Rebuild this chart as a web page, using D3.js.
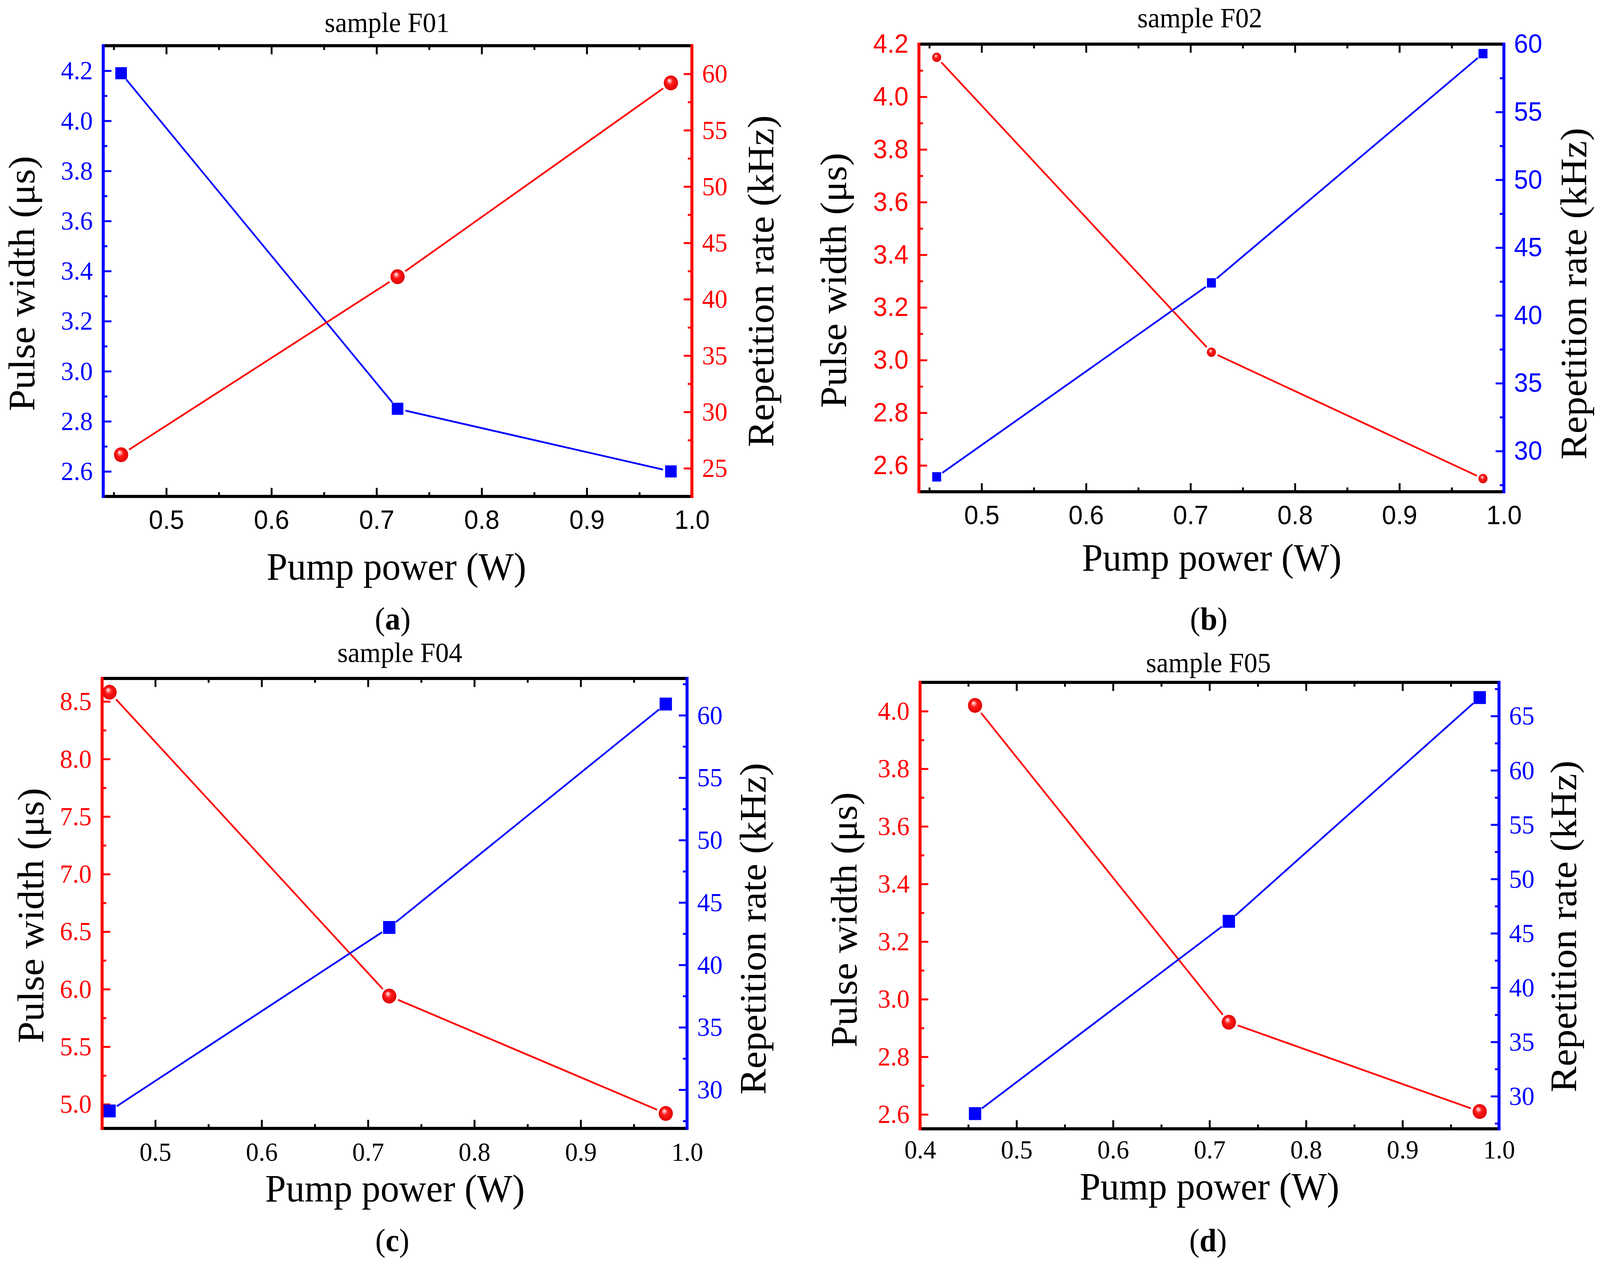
<!DOCTYPE html>
<html><head><meta charset="utf-8">
<script src="https://cdn.jsdelivr.net/npm/d3@7"></script>
<style>
html,body{margin:0;padding:0;width:100%;height:100%;overflow:hidden;background:#fff}
svg{display:block;width:100vw;height:100vh}
</style>
</head><body>
<svg id="chart" viewBox="0 0 4278 3231" preserveAspectRatio="none" xmlns="http://www.w3.org/2000/svg"></svg>
<script>
// ---------------- data ----------------
const pumpPower = [0.457, 0.72, 0.98];

const pulseF01 = [4.19, 2.85, 2.60];
const rateF01  = [26.2, 42.0, 59.2];
const pulseF02 = [4.15, 3.03, 2.55];
const rateF02  = [28.1, 42.4, 59.3];
const pulseF04 = [8.58, 5.94, 4.92];
const rateF04  = [28.3, 43.0, 60.9];
const pulseF05 = [4.02, 2.92, 2.61];
const rateF05  = [28.4, 46.1, 66.7];

const xTicksABC = [0.5, 0.6, 0.7, 0.8, 0.9, 1.0];
const xTicksD   = [0.4, 0.5, 0.6, 0.7, 0.8, 0.9, 1.0];
const pwTicksF01 = [2.6, 2.8, 3.0, 3.2, 3.4, 3.6, 3.8, 4.0, 4.2];
const rrTicksF01 = [25, 30, 35, 40, 45, 50, 55, 60];
const pwTicksF02 = [2.6, 2.8, 3.0, 3.2, 3.4, 3.6, 3.8, 4.0, 4.2];
const rrTicksF02 = [30, 35, 40, 45, 50, 55, 60];
const pwTicksF04 = [5.0, 5.5, 6.0, 6.5, 7.0, 7.5, 8.0, 8.5];
const rrTicksF04 = [30, 35, 40, 45, 50, 55, 60];
const pwTicksF05 = [2.6, 2.8, 3.0, 3.2, 3.4, 3.6, 3.8, 4.0];
const rrTicksF05 = [30, 35, 40, 45, 50, 55, 60, 65];

const panelTitles  = ["sample F01", "sample F02", "sample F04", "sample F05"];
const panelLetters = ["a", "b", "c", "d"];
const xAxisTitle = "Pump power (W)";
const pwAxisTitle = "Pulse width (\u03bcs)";
const rrAxisTitle = "Repetition rate (kHz)";

// ---------------- styles ----------------
const SERIF = "'Liberation Serif','Times New Roman',serif";
const SANS  = "'Liberation Sans',Arial,sans-serif";
const BLUE = "#0000ff", RED = "#ff0000";

const svg = d3.select("#chart");
svg.append("rect").attr("width", 4278).attr("height", 3231).attr("fill", "#fff");

const defs = svg.append("defs");
const grad = defs.append("radialGradient").attr("id", "sphere")
  .attr("cx", "0.5").attr("cy", "0.5").attr("r", "0.55").attr("fx", "0.38").attr("fy", "0.32");
grad.append("stop").attr("offset", "0%").attr("stop-color", "#ffffff");
grad.append("stop").attr("offset", "14%").attr("stop-color", "#ffb0b0");
grad.append("stop").attr("offset", "40%").attr("stop-color", "#ff1a1a");
grad.append("stop").attr("offset", "100%").attr("stop-color", "#d80000");

const panels = [
  { title: panelTitles[0], letter: panelLetters[0], pulse: pulseF01, rate: rateF01,
    L: 276, R: 1850, T: 117, B: 1271, xPad: 35,
    xDomain: [0.44, 1.0], pwDomain: [2.5, 4.3], rrDomain: [22.5, 62.5],
    xTicks: xTicksABC, pwTicks: pwTicksF01, rrTicks: rrTicksF01, pwStep: 0.2, rrStep: 5,
    pwColor: BLUE, rrColor: RED, xFont: SANS, yFont: SERIF,
    titleX: 1035, titleY: 82, xlabX: 1060, xlabY: 1484,
    lLabX: 92, lLabY: 726, rLabX: 2068, rLabY: 720, letX: 1050, letY: 1612,
    sphereR: 19, sq: 31 },
  { title: panelTitles[1], letter: panelLetters[1], pulse: pulseF02, rate: rateF02,
    L: 2457, R: 4021, T: 113, B: 1259, xPad: 35,
    xDomain: [0.44, 1.0], pwDomain: [2.5, 4.2], rrDomain: [27, 60],
    xTicks: xTicksABC, pwTicks: pwTicksF02, rrTicks: rrTicksF02, pwStep: 0.2, rrStep: 5,
    pwColor: RED, rrColor: BLUE, xFont: SANS, yFont: SANS,
    titleX: 3208, titleY: 70, xlabX: 3240, xlabY: 1461,
    lLabX: 2262, lLabY: 718, rLabX: 4241, rLabY: 752, letX: 3232, letY: 1612,
    sphereR: 12, sq: 24 },
  { title: panelTitles[2], letter: panelLetters[2], pulse: pulseF04, rate: rateF04,
    L: 273, R: 1837, T: 1737, B: 2889, xPad: 35,
    xDomain: [0.45, 1.0], pwDomain: [4.79, 8.7], rrDomain: [26.9, 62.95],
    xTicks: xTicksABC, pwTicks: pwTicksF04, rrTicks: rrTicksF04, pwStep: 0.5, rrStep: 5,
    pwColor: RED, rrColor: BLUE, xFont: SERIF, yFont: SERIF,
    titleX: 1069, titleY: 1695, xlabX: 1056, xlabY: 3076,
    lLabX: 116, lLabY: 2344, rLabX: 2047, rLabY: 2378, letX: 1049, letY: 3203,
    sphereR: 19, sq: 33 },
  { title: panelTitles[3], letter: panelLetters[3], pulse: pulseF05, rate: rateF05,
    L: 2460, R: 4008, T: 1747, B: 2890, xPad: 28,
    xDomain: [0.4, 1.0], pwDomain: [2.55, 4.1], rrDomain: [27, 68.1],
    xTicks: xTicksD, pwTicks: pwTicksF05, rrTicks: rrTicksF05, pwStep: 0.2, rrStep: 5,
    pwColor: RED, rrColor: BLUE, xFont: SERIF, yFont: SERIF,
    titleX: 3231, titleY: 1721, xlabX: 3234, xlabY: 3071,
    lLabX: 2290, lLabY: 2355, rLabX: 4214, rLabY: 2372, letX: 3230, letY: 3203,
    sphereR: 19, sq: 33 }
];

function minorTicks(ticks, step, domain) {
  const eps = step * 0.02;
  let s = ticks[0] - step / 2;
  while (s - step > domain[0]) s -= step;
  const out = [];
  for (let v = s; v < domain[1] - eps; v += step) {
    if (v > domain[0] + eps) out.push(+v.toFixed(6));
  }
  return out;
}

function styleAxis(sel, color, font, width) {
  sel.attr("color", color).attr("font-family", font).attr("font-size", 68);
  sel.select(".domain").remove();
  sel.selectAll(".tick line").attr("stroke-width", width).attr("stroke", color);
  sel.selectAll(".tick text").attr("font-family", font).attr("font-size", 68).attr("fill", color);
}

panels.forEach(p => {
  const g = svg.append("g");
  const x = d3.scaleLinear().domain(p.xDomain).range([p.L, p.R]);
  const yPW = d3.scaleLinear().domain(p.pwDomain).range([p.B, p.T]);
  const yRR = d3.scaleLinear().domain(p.rrDomain).range([p.B, p.T]);

  const xMinor = minorTicks(p.xTicks, 0.1, p.xDomain);
  const pwMinor = minorTicks(p.pwTicks, p.pwStep, p.pwDomain);
  const rrMinor = minorTicks(p.rrTicks, p.rrStep, p.rrDomain);
  const MAJ = 22, MIN = 11, TW = 5;

  // bottom axis
  g.append("g").attr("transform", `translate(0,${p.B})`)
    .call(d3.axisBottom(x).tickValues(p.xTicks).tickSize(-MAJ).tickPadding(p.xPad).tickFormat(d3.format(".1f")))
    .call(s => styleAxis(s, "#000", p.xFont, TW));
  g.append("g").attr("transform", `translate(0,${p.B})`)
    .call(d3.axisBottom(x).tickValues(xMinor).tickSize(-MIN).tickFormat(""))
    .call(s => styleAxis(s, "#000", p.xFont, TW));
  // top axis
  g.append("g").attr("transform", `translate(0,${p.T})`)
    .call(d3.axisTop(x).tickValues(p.xTicks).tickSize(-MAJ).tickFormat(""))
    .call(s => styleAxis(s, "#000", p.xFont, TW));
  g.append("g").attr("transform", `translate(0,${p.T})`)
    .call(d3.axisTop(x).tickValues(xMinor).tickSize(-MIN).tickFormat(""))
    .call(s => styleAxis(s, "#000", p.xFont, TW));
  // left axis (pulse width)
  g.append("g").attr("transform", `translate(${p.L},0)`)
    .call(d3.axisLeft(yPW).tickValues(p.pwTicks).tickSize(-MAJ).tickPadding(28).tickFormat(d3.format(".1f")))
    .call(s => styleAxis(s, p.pwColor, p.yFont, TW));
  g.append("g").attr("transform", `translate(${p.L},0)`)
    .call(d3.axisLeft(yPW).tickValues(pwMinor).tickSize(-MIN).tickFormat(""))
    .call(s => styleAxis(s, p.pwColor, p.yFont, TW));
  // right axis (repetition rate)
  g.append("g").attr("transform", `translate(${p.R},0)`)
    .call(d3.axisRight(yRR).tickValues(p.rrTicks).tickSize(-MAJ).tickPadding(27).tickFormat(d3.format("d")))
    .call(s => styleAxis(s, p.rrColor, p.yFont, TW));
  g.append("g").attr("transform", `translate(${p.R},0)`)
    .call(d3.axisRight(yRR).tickValues(rrMinor).tickSize(-MIN).tickFormat(""))
    .call(s => styleAxis(s, p.rrColor, p.yFont, TW));

  // data lines: segments between markers, leaving a small gap at each marker (Origin style)
  const pts = (ys) => pumpPower.map((v, i) => [v, ys[i]]);
  function drawSegments(data, yScale, color, gap) {
    const line = d3.line();
    const scr = data.map(d => [x(d[0]), yScale(d[1])]);
    for (let i = 0; i < scr.length - 1; i++) {
      const [x0, y0] = scr[i], [x1, y1] = scr[i + 1];
      const len = Math.hypot(x1 - x0, y1 - y0);
      const ux = (x1 - x0) / len, uy = (y1 - y0) / len;
      g.append("path")
        .attr("d", line([[x0 + ux * gap, y0 + uy * gap], [x1 - ux * gap, y1 - uy * gap]]))
        .attr("fill", "none").attr("stroke", color).attr("stroke-width", 4.5);
    }
  }
  const gapOf = c => (c === BLUE ? p.sq / 2 + 6 : p.sphereR + 6);
  drawSegments(pts(p.pulse), yPW, p.pwColor, gapOf(p.pwColor));
  drawSegments(pts(p.rate), yRR, p.rrColor, gapOf(p.rrColor));

  // markers
  function drawMarkers(data, yScale, color) {
    if (color === BLUE) {
      g.selectAll(null).data(data).enter().append("rect")
        .attr("x", d => x(d[0]) - p.sq / 2).attr("y", d => yScale(d[1]) - p.sq / 2)
        .attr("width", p.sq).attr("height", p.sq).attr("fill", BLUE);
    } else {
      g.selectAll(null).data(data).enter().append("circle")
        .attr("cx", d => x(d[0])).attr("cy", d => yScale(d[1])).attr("r", p.sphereR)
        .attr("fill", "url(#sphere)");
    }
  }
  drawMarkers(pts(p.pulse), yPW, p.pwColor);
  drawMarkers(pts(p.rate), yRR, p.rrColor);

  // spines
  const SW = 8;
  g.append("line").attr("x1", p.L).attr("x2", p.R).attr("y1", p.T).attr("y2", p.T)
    .attr("stroke", "#000").attr("stroke-width", SW);
  g.append("line").attr("x1", p.L).attr("x2", p.R).attr("y1", p.B).attr("y2", p.B)
    .attr("stroke", "#000").attr("stroke-width", SW);
  g.append("line").attr("x1", p.L).attr("x2", p.L).attr("y1", p.T - SW / 2).attr("y2", p.B + SW / 2)
    .attr("stroke", p.pwColor).attr("stroke-width", SW);
  g.append("line").attr("x1", p.R).attr("x2", p.R).attr("y1", p.T - SW / 2).attr("y2", p.B + SW / 2)
    .attr("stroke", p.rrColor).attr("stroke-width", SW);

  // texts
  g.append("text").attr("x", p.titleX).attr("y", p.titleY).attr("text-anchor", "middle")
    .attr("font-family", SERIF).attr("font-size", 72).attr("fill", "#000").text(p.title);
  g.append("text").attr("x", p.xlabX).attr("y", p.xlabY).attr("text-anchor", "middle")
    .attr("font-family", SERIF).attr("font-size", 100).attr("fill", "#000").text(xAxisTitle);
  g.append("text").attr("transform", `translate(${p.lLabX},${p.lLabY}) rotate(-90)`)
    .attr("text-anchor", "middle").attr("font-family", SERIF).attr("font-size", 100)
    .attr("fill", "#000").text(pwAxisTitle);
  g.append("text").attr("transform", `translate(${p.rLabX},${p.rLabY}) rotate(-90)`)
    .attr("text-anchor", "middle").attr("font-family", SERIF).attr("font-size", 100)
    .attr("fill", "#000").text(rrAxisTitle);
  const lt = g.append("text").attr("x", p.letX).attr("y", p.letY).attr("text-anchor", "middle")
    .attr("font-family", SERIF).attr("font-size", 82).attr("fill", "#000");
  lt.append("tspan").text("(");
  lt.append("tspan").attr("font-weight", "bold").text(p.letter);
  lt.append("tspan").text(")");
});
</script>
</body></html>
